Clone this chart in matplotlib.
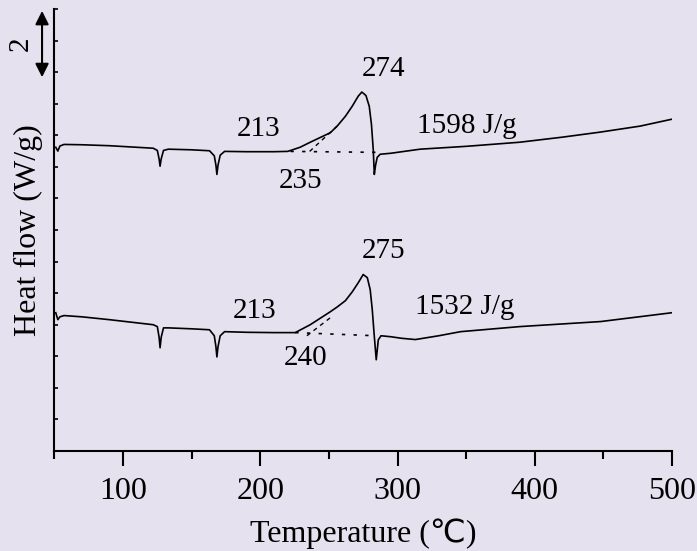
import matplotlib
matplotlib.use('Agg')
import matplotlib.pyplot as plt
from matplotlib.ticker import MultipleLocator, NullFormatter

plt.rcParams['font.family'] = ['Liberation Serif', 'DejaVu Sans']

bg = '#e5e1ee'

# upper DSC curve (temperature, heat flow offset)
t_up = [51, 52.5, 54, 57, 70, 90, 110, 122, 125, 126.3, 127, 127.8, 129.5, 133, 150, 163,
        166.5, 167.7, 168.4, 169.2, 170.8, 174, 190, 210, 220, 229, 236.4, 251, 256, 262,
        267, 271.4, 274, 277, 279.4, 281, 282.3, 283.1, 284, 285.2, 287.4, 295, 316.5, 350,
        389, 420, 447.6, 476.7, 500]
y_up = [9.62, 9.50, 9.66, 9.71, 9.70, 9.67, 9.62, 9.59, 9.52, 9.25, 9.02, 9.25, 9.52, 9.56,
        9.54, 9.51, 9.35, 9.05, 8.76, 9.05, 9.37, 9.49, 9.48, 9.48, 9.49, 9.62, 9.78, 10.08,
        10.29, 10.60, 10.92, 11.24, 11.37, 11.26, 10.92, 10.35, 9.56, 8.76, 9.05, 9.30, 9.40,
        9.43, 9.56, 9.65, 9.78, 9.94, 10.10, 10.29, 10.51]

# lower DSC curve
t_lo = [51, 52.5, 54, 57, 70, 90, 110, 122, 125, 126.3, 127, 127.8, 129.5, 133, 150, 163,
        166.5, 167.7, 168.4, 169.2, 170.8, 174, 190, 210, 225.5, 236.4, 251, 256, 262, 267,
        271.4, 275, 278, 280.1, 281.6, 283, 284.5, 286, 288, 295, 303, 313, 330, 346, 389,
        448, 500]
y_lo = [4.38, 4.16, 4.25, 4.29, 4.25, 4.16, 4.06, 4.00, 3.94, 3.60, 3.27, 3.60, 3.90, 3.90,
        3.87, 3.84, 3.65, 3.30, 2.98, 3.30, 3.65, 3.78, 3.76, 3.75, 3.75, 4.00, 4.41, 4.56,
        4.76, 5.04, 5.33, 5.59, 5.49, 5.11, 4.48, 3.68, 2.89, 3.52, 3.65, 3.62, 3.57, 3.53,
        3.65, 3.78, 3.94, 4.10, 4.38]

# baselines and onset tangents
base_up_t = [222, 284]
base_up_y = [9.49, 9.46]
tan_up_t = [236, 256]
tan_up_y = [9.49, 10.29]
base_lo_t = [225.5, 284]
base_lo_y = [3.75, 3.65]
tan_lo_t = [234, 251]
tan_lo_y = [3.65, 4.22]

labels = [('274', 289.6, 12.1), ('213', 198.6, 10.19), ('235', 229, 8.54),
          ('1598 J/g', 350.6, 10.3), ('275', 289.6, 6.32), ('213', 195.7, 4.44),
          ('240', 232.8, 2.95), ('1532 J/g', 348.8, 4.55)]

fig = plt.figure(figsize=(6.97, 5.51), dpi=100, facecolor=bg)
ax = fig.add_axes([54.4 / 697, 1 - 451 / 551, 617.6 / 697, 442 / 551])
ax.set_facecolor(bg)

ax.plot(t_up, y_up, color='k', lw=1.2)
ax.plot(t_lo, y_lo, color='k', lw=1.2)
ax.plot(base_up_t, base_up_y, color='k', lw=1.2, ls=(0, (2, 5)))
ax.plot(base_lo_t, base_lo_y, color='k', lw=1.2, ls=(0, (2, 5)))
ax.plot(tan_up_t, tan_up_y, color='k', lw=1.0, ls=(0, (3, 3)))
ax.plot(tan_lo_t, tan_lo_y, color='k', lw=1.0, ls=(0, (3, 3)))

for txt, x, y in labels:
    ax.text(x, y, txt, fontsize=21, ha='center', va='center')

# scale bar
ax.annotate('', xy=(-0.020, 13.94), xytext=(-0.020, 11.84),
            xycoords=('axes fraction', 'data'), textcoords=('axes fraction', 'data'),
            annotation_clip=False,
            arrowprops=dict(arrowstyle='<|-|>', color='k', lw=1.5, mutation_scale=20,
                            shrinkA=0, shrinkB=0))
ax.text(-0.054, 12.89, '2', fontsize=21, rotation=90, ha='center', va='center',
        transform=ax.get_yaxis_transform())

ax.set_xlim(50, 500)
ax.set_ylim(0, 14)
ax.spines['top'].set_visible(False)
ax.spines['right'].set_visible(False)
ax.spines['left'].set_linewidth(1.5)
ax.spines['bottom'].set_linewidth(1.5)

ax.xaxis.set_major_locator(MultipleLocator(100))
ax.xaxis.set_minor_locator(MultipleLocator(50))
ax.tick_params(axis='x', which='major', direction='out', length=11, width=1.5,
               labelsize=23, pad=8)
ax.tick_params(axis='x', which='minor', direction='out', length=6, width=1.5)

ax.yaxis.set_major_locator(MultipleLocator(1))
ax.yaxis.set_major_formatter(NullFormatter())
ax.tick_params(axis='y', which='major', direction='in', length=3, width=1.2)

ax.set_xlabel('Temperature (℃)', fontsize=23, labelpad=9)
ax.set_ylabel('Heat flow (W/g)', fontsize=23)
ax.yaxis.set_label_coords(-0.018, 0.5)

fig.savefig('out.png', dpi=100, facecolor=bg)
